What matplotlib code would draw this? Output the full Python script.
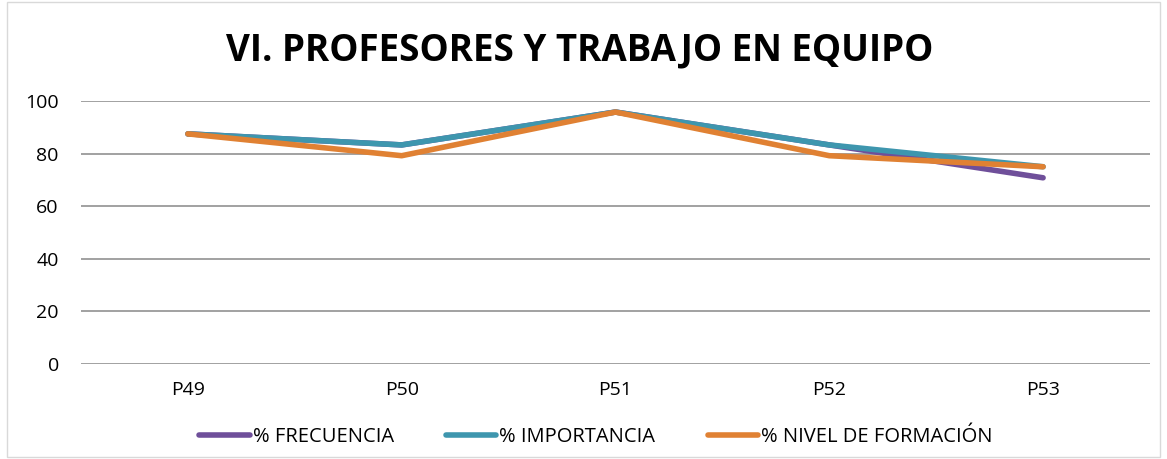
import matplotlib

matplotlib.use("Agg")
import matplotlib.pyplot as plt  # noqa: E402
from matplotlib.patches import Rectangle  # noqa: E402

categories = ["P49", "P50", "P51", "P52", "P53"]
frecuencia = [87.5, 83.3, 95.8, 83.3, 70.8]
importancia = [87.5, 83.3, 95.8, 83.3, 75.0]
nivel = [87.5, 79.2, 95.8, 79.2, 75.0]
yticks = [0, 20, 40, 60, 80, 100]

plt.rcParams["font.family"] = ["Open Sans", "DejaVu Sans"]

fig = plt.figure(figsize=(11.67, 4.59), dpi=100)
ax = fig.add_axes([81 / 1167, 1 - 364 / 459, (1150 - 81) / 1167, (364 - 101) / 459])

x = range(len(categories))
ax.plot(x, frecuencia, color="#6F4F9A", lw=4, solid_capstyle="round",
        label="% FRECUENCIA")
ax.plot(x, importancia, color="#3E96AE", lw=4, solid_capstyle="round",
        label="% IMPORTANCIA")
ax.plot(x, nivel, color="#E08133", lw=4, solid_capstyle="round",
        label="% NIVEL DE FORMACIÓN")

ax.set_xlim(-0.5, len(categories) - 0.5)
ax.set_ylim(0, 100)
ax.set_yticks(yticks)
ax.set_xticks(list(x))
ax.set_xticklabels(categories)
ax.grid(axis="y", color="#9a9a9a", lw=1.3)
ax.set_axisbelow(True)
for s in ax.spines.values():
    s.set_visible(False)
ax.tick_params(length=0, labelsize=14, colors="#000000")
ax.tick_params(axis="x", pad=12)
ax.tick_params(axis="y", pad=16)

fig.suptitle("VI. PROFESORES Y TRABAJO EN EQUIPO", fontsize=26.5, fontweight="bold",
             x=580 / 1167, y=1 - 50 / 459, va="center")

leg = fig.legend(loc="center", bbox_to_anchor=(596 / 1167, 1 - 437 / 459), ncol=3,
                 frameon=False, fontsize=14.5, handlelength=2.5, handletextpad=0.15,
                 columnspacing=2.6)

fig.patches.append(Rectangle((7 / 1167, 0.005), 1 - 14 / 1167, 0.99, transform=fig.transFigure,
                             fill=False, edgecolor="#d9d9d9", lw=1))

fig.savefig("out.png", dpi=100)
plt.close(fig)
